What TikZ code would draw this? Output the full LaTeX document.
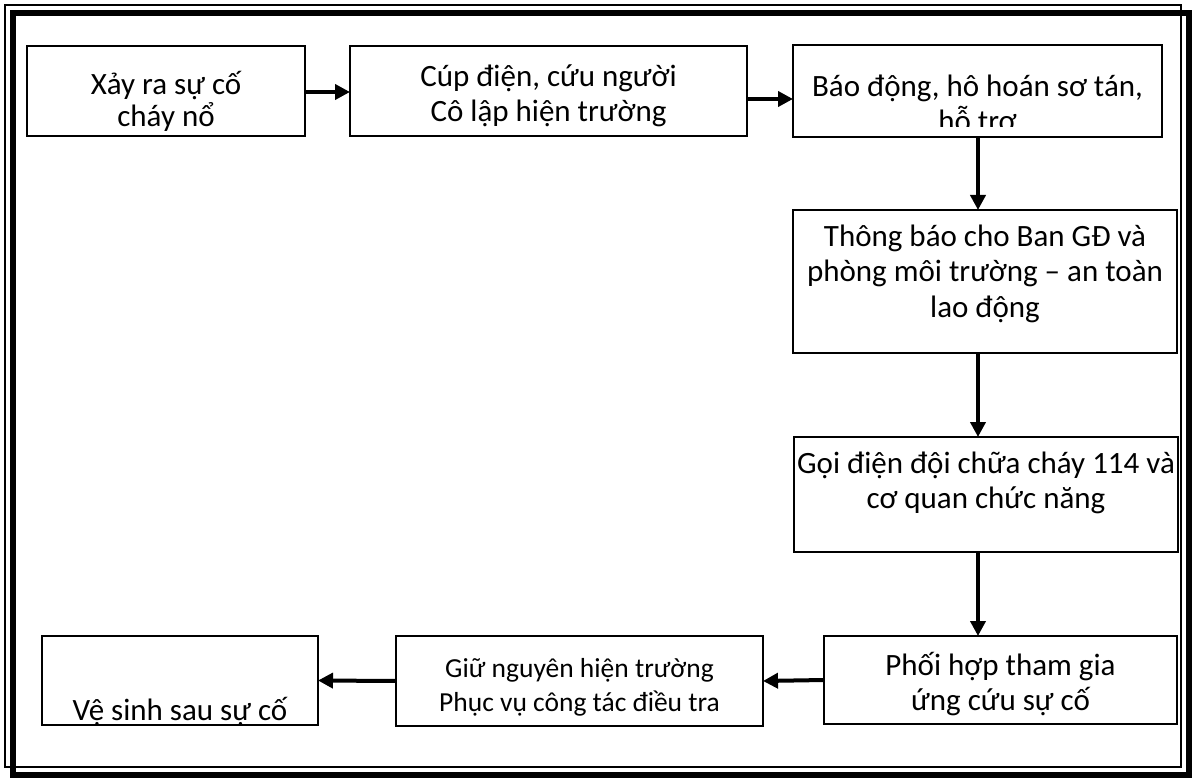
\documentclass[tikz,border=0pt]{standalone}
\usepackage{fontspec}
\setmainfont{Carlito}
\usetikzlibrary{arrows.meta}
\begin{document}
\begin{tikzpicture}[x=1pt,y=-1pt,
  box/.style={draw, line width=1.5pt, rectangle, inner sep=0pt, outer sep=0pt, anchor=north west},
  lbl/.style={anchor=base, inner sep=0pt, font=\fontsize{31}{35}\selectfont},
  lblsmall/.style={anchor=base, inner sep=0pt, font=\fontsize{27.5}{33}\selectfont},
  flow/.style={line width=4pt, -{Triangle[length=15pt,width=15pt]}},
  frame/.style={draw, line width=#1}
]
\useasboundingbox (0,0) rectangle (1192,778);

% page frame: thin line plus thick line
\draw[frame=1.5pt] (5,5) rectangle (1181,767);
\draw[frame=6pt] (13,13) rectangle (1189,775);

% process boxes
\node[box, minimum width=278pt, minimum height=90pt]  (b1) at (27,46)   {};
\node[box, minimum width=397pt, minimum height=90pt]  (b2) at (350,46)  {};
\node[box, minimum width=369pt, minimum height=92pt]  (b3) at (793,45)  {};
\node[box, minimum width=384pt, minimum height=143pt] (b4) at (793,210) {};
\node[box, minimum width=384pt, minimum height=115pt] (b5) at (794,437) {};
\node[box, minimum width=353pt, minimum height=88pt]  (b6) at (824,636) {};
\node[box, minimum width=367pt, minimum height=90pt]  (b7) at (396,636) {};
\node[box, minimum width=276pt, minimum height=89pt]  (b8) at (42,636)  {};

% box texts, cut off at the box edges
\begin{scope}
  \clip (b1.north west) rectangle (b1.south east);
  \node[lbl] (t1a) at (166,95)  {Xảy ra sự cố};
  \node[lbl] (t1b) at (166,127) {cháy nổ};
\end{scope}
\begin{scope}
  \clip (b2.north west) rectangle (b2.south east);
  \node[lbl] (t2a) at (548.5,87)  {Cúp điện, cứu người};
  \node[lbl] (t2b) at (548.5,122) {Cô lập hiện trường};
\end{scope}
\begin{scope}
  \clip (b3.north west) rectangle ([yshift=10pt]b3.south east);
  \node[lbl] (t3a) at (977.5,97)  {Báo động, hô hoán sơ tán,};
  \node[lbl] (t3b) at (977.5,132) {hỗ trợ};
\end{scope}
\begin{scope}
  \clip (b4.north west) rectangle (b4.south east);
  \node[lbl] (t4a) at (985,247) {Thông báo cho Ban GĐ và};
  \node[lbl] (t4b) at (985,282) {phòng môi trường – an toàn};
  \node[lbl] (t4c) at (985,317) {lao động};
\end{scope}
\begin{scope}
  \clip (b5.north west) rectangle (b5.south east);
  \node[lbl] (t5a) at (986,473) {Gọi điện đội chữa cháy 114 và};
  \node[lbl] (t5b) at (986,508) {cơ quan chức năng};
\end{scope}
\begin{scope}
  \clip (b6.north west) rectangle (b6.south east);
  \node[lbl] (t6a) at (1000.5,675) {Phối hợp tham gia};
  \node[lbl] (t6b) at (1000.5,710) {ứng cứu sự cố};
\end{scope}
\begin{scope}
  \clip (b7.north west) rectangle (b7.south east);
  \node[lblsmall] (t7a) at (579.5,677) {Giữ nguyên hiện trường};
  \node[lblsmall] (t7b) at (579.5,711) {Phục vụ công tác điều tra};
\end{scope}
\begin{scope}
  \clip (b8.north west) rectangle (b8.south east);
  \node[lbl] (t8a) at (180,720) {Vệ sinh sau sự cố};
\end{scope}

% connectors
\coordinate (vx) at (978,0);
\draw[flow] ([yshift=-1pt]b1.east) -- ([yshift=-1pt]b2.west);
\draw[flow] ([yshift=-8pt]b2.east) -- ([yshift=-8pt]b3.west);
\draw[flow] (b3.south -| vx) -- (b4.north -| vx);
\draw[flow] (b4.south -| vx) -- (b5.north -| vx);
\draw[flow] (b5.south -| vx) -- (b6.north -| vx);
\draw[flow] (b6.west) -- (b7.east);
\draw[flow] (b7.west) -- (b8.east);
\end{tikzpicture}
\end{document}
